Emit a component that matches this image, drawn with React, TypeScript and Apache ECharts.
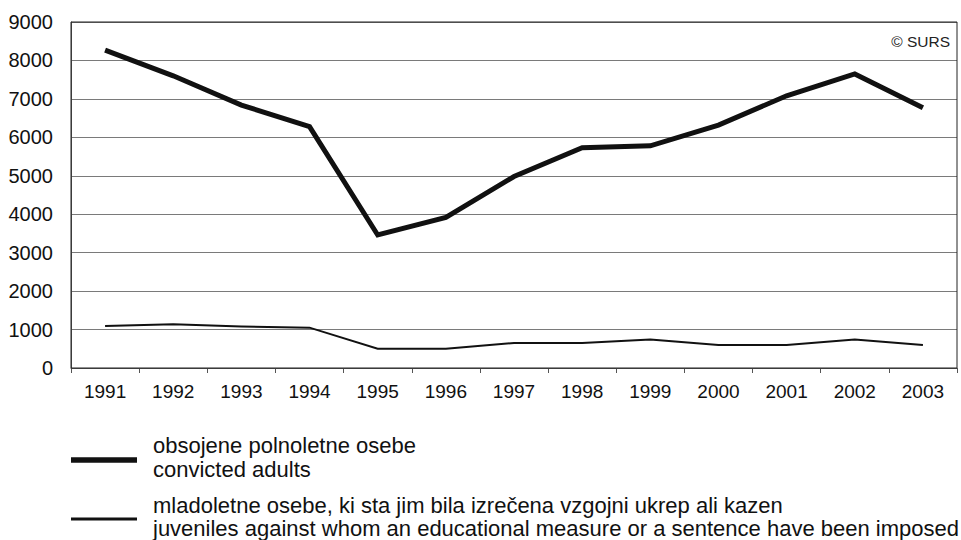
import React, { useEffect, useRef } from "react";
import * as echarts from "echarts";

const years = ["1991","1992","1993","1994","1995","1996","1997","1998","1999","2000","2001","2002","2003"];
const adults = [8270, 7600, 6840, 6280, 3460, 3920, 4980, 5730, 5780, 6320, 7080, 7650, 6770];
const juveniles = [1090, 1140, 1080, 1050, 500, 500, 650, 650, 740, 600, 600, 740, 600];
const adultLabel = ["obsojene polnoletne osebe", "convicted adults"];
const juvenileLabel = [
  "mladoletne osebe, ki sta jim bila izrečena vzgojni ukrep ali kazen",
  "juveniles against whom an educational measure or a sentence have been imposed",
];
const yTicks = { min: 0, max: 9000, interval: 1000 };
const FONT = "'Liberation Sans', Arial, sans-serif";

export default function App() {
  const ref = useRef<HTMLDivElement>(null);
  useEffect(() => {
    if (!ref.current) return;
    const chart = echarts.init(ref.current, undefined, { renderer: "svg" });
    const gl = 71, gt = 22, gr = 957, gb = 368;
    chart.setOption({
      animation: false,
      backgroundColor: "#fff",
      textStyle: { fontFamily: FONT },
      grid: { left: gl, top: gt, right: 961 - gr, bottom: 540 - gb, containLabel: false },
      xAxis: {
        type: "category",
        data: years,
        boundaryGap: true,
        axisLine: { show: true, lineStyle: { color: "#555", width: 1 } },
        axisTick: { show: true, interval: 0, length: 5, lineStyle: { color: "#555" } },
        axisLabel: { color: "#111", fontSize: 19, margin: 14, fontFamily: FONT, interval: 0 },
        splitLine: { show: false },
      },
      yAxis: {
        type: "value",
        min: yTicks.min,
        max: yTicks.max,
        interval: yTicks.interval,
        axisLine: { show: true, lineStyle: { color: "#555", width: 1 } },
        axisTick: { show: false },
        axisLabel: {
          color: "#111",
          fontSize: 20,
          margin: 18,
          fontFamily: FONT,
          formatter: (v: number) => String(v),
        },
        splitLine: { show: true, lineStyle: { color: "#7a7a7a", width: 1 } },
      },
      series: [
        {
          name: adultLabel[1],
          type: "line",
          data: adults,
          showSymbol: false,
          symbol: "none",
          lineStyle: { color: "#111", width: 5, cap: "butt", join: "miter" },
          z: 3,
        },
        {
          name: juvenileLabel[1],
          type: "line",
          data: juveniles,
          showSymbol: false,
          symbol: "none",
          lineStyle: { color: "#111", width: 2, cap: "butt", join: "miter" },
          z: 3,
        },
      ],
      graphic: [
        {
          type: "rect",
          shape: { x: gl, y: gt, width: gr - gl, height: gb - gt },
          style: { fill: "none", stroke: "#222", lineWidth: 1 },
          silent: true,
          z: 1,
        },
        {
          type: "text",
          x: 950,
          y: 33,
          style: { text: "© SURS", fontSize: 15.5, fill: "#222", fontFamily: FONT, align: "right" },
        },
        {
          type: "line",
          shape: { x1: 71, y1: 460, x2: 137, y2: 460 },
          style: { stroke: "#111", lineWidth: 5.5 },
        },
        {
          type: "text",
          x: 153,
          y: 433,
          style: { text: adultLabel.join("\n"), fontSize: 22, lineHeight: 24, fill: "#111", fontFamily: FONT },
        },
        {
          type: "line",
          shape: { x1: 71, y1: 519, x2: 137, y2: 519 },
          style: { stroke: "#111", lineWidth: 3 },
        },
        {
          type: "text",
          x: 153,
          y: 494,
          style: { text: juvenileLabel.join("\n"), fontSize: 22, lineHeight: 23, fill: "#111", fontFamily: FONT },
        },
      ],
    });
    return () => chart.dispose();
  }, []);
  return <div ref={ref} style={{ width: 961, height: 540, position: "absolute", left: 0, top: 0 }} />;
}
